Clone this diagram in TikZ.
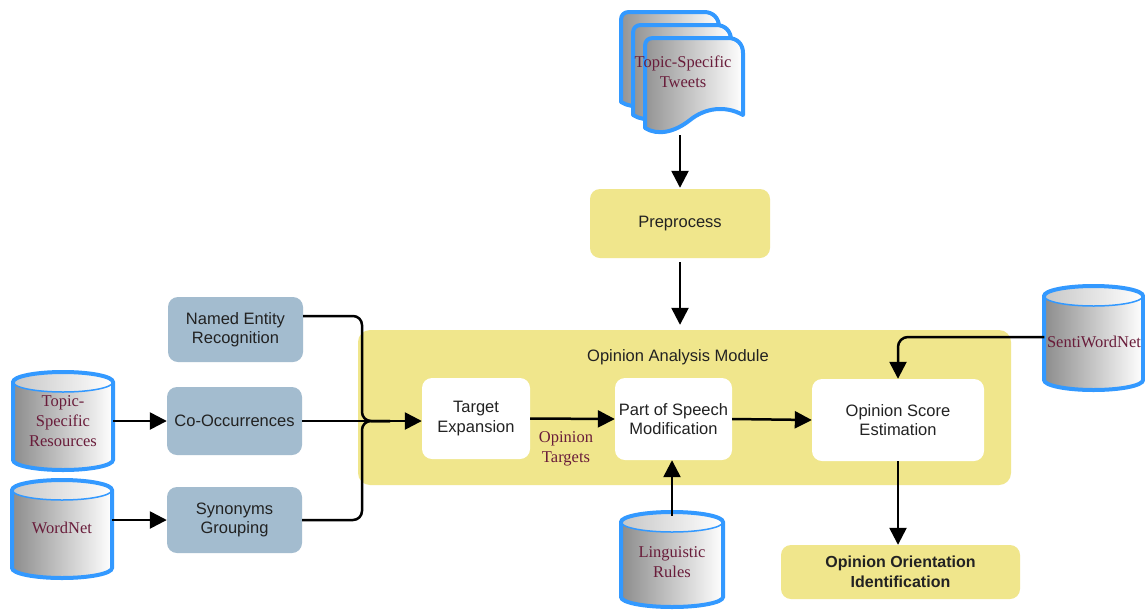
\documentclass[tikz,border=0pt]{standalone}
\usepackage{fontspec}
\setmainfont{Liberation Serif}
\newfontfamily\sansf{Liberation Sans}
\usetikzlibrary{arrows.meta}
\definecolor{khaki}{RGB}{240,230,140}
\definecolor{bgray}{RGB}{163,188,207}
\definecolor{cylblue}{RGB}{51,153,255}
\definecolor{maroon}{RGB}{105,28,58}
\definecolor{txt}{RGB}{34,34,34}
\tikzset{
  conn/.style={line width=2.5pt,-{Triangle[length=17pt,width=17pt]}},
  plainline/.style={line width=2.5pt},
  sanstext/.style={inner sep=0pt,align=center,text=txt,font=\sansf\fontsize{16.5}{19.5}\selectfont},
  bluebox/.style={sanstext,fill=bgray,rounded corners=10pt},
  whitebox/.style={sanstext,fill=white,rounded corners=10pt},
  khakibox/.style={sanstext,fill=khaki,rounded corners=10pt},
  cyltext/.style={inner sep=0pt,align=center,text=maroon,font=\fontsize{16.5}{20}\selectfont},
  cylfill/.style={left color=black!45,right color=white},
  cylline/.style={draw=cylblue,line width=4pt},
  cyltop/.style={draw=cylblue,line width=1.5pt,left color=black!22,right color=white},
  docst/.style={draw=cylblue,line width=4pt,left color=black!42,right color=white,line join=round}
}
\newcommand\mycyl[4]{%
  \path[cylfill] (#1-#4,#2) -- (#1-#4,#3) arc[start angle=180,end angle=360,x radius=#4pt,y radius=10pt] -- (#1+#4,#2) arc[start angle=0,end angle=180,x radius=#4pt,y radius=10pt] -- cycle;
  \path[cyltop] (#1,#2) ellipse[x radius=#4pt,y radius=10pt];
  \path[cylline] (#1-#4,#2) -- (#1-#4,#3) arc[start angle=180,end angle=360,x radius=#4pt,y radius=10pt] -- (#1+#4,#2) arc[start angle=0,end angle=180,x radius=#4pt,y radius=10pt] -- cycle;}
\newcommand\mydoc[1]{%
  \path[docst,shift={#1}] (645,46) .. controls (645,41) and (648,38) .. (653,38) -- (728,38) .. controls (737,38) and (743,44) .. (743,53) -- (743,115) .. controls (725,105) and (705,108) .. (690,120) .. controls (675,132) and (658,136) .. (645,128) -- cycle;}
\begin{document}
\begin{tikzpicture}[x=1pt,y=-1pt]
\useasboundingbox (0,0) rectangle (1145,611);
\fill[white] (0,0) rectangle (1145,611);

% document stack
\mydoc{(-24,-26)}
\mydoc{(-12,-13)}
\mydoc{(0,0)}
\node[cyltext,minimum width=100pt,minimum height=126pt] (docs) at (683,72) {Topic-Specific\\Tweets};

% cylinders
\mycyl{63}{382}{460}{50}
\mycyl{62}{490}{568}{50}
\mycyl{1093.5}{296}{380}{49.5}
\mycyl{672}{522}{597}{51}
\node[cyltext,minimum width=100pt,minimum height=98pt] (tsr) at (63,421) {Topic-\\Specific\\Resources};
\node[cyltext,minimum width=100pt,minimum height=98pt] (wn) at (62,528) {WordNet};
\node[cyltext,minimum width=99pt,minimum height=100pt] (swn) at (1094,342) {SentiWordNet};
\node[cyltext,minimum width=102pt,minimum height=96pt] (lr) at (672,562) {Linguistic\\Rules};

% boxes
\node[khakibox,minimum width=180pt,minimum height=69pt] (pre) at (680,223.5) {Preprocess};
\node[khakibox,rounded corners=12pt,minimum width=653pt,minimum height=155pt] (mod) at (684.5,407.5) {};
\node[sanstext] (modlbl) at (678,357) {Opinion Analysis Module};
\node[whitebox,minimum width=108pt,minimum height=81pt] (te) at (476,418.5) {Target\\Expansion};
\node[whitebox,minimum width=117pt,minimum height=82pt] (pos) at (673.5,419) {Part of Speech\\Modification};
\node[whitebox,minimum width=172pt,minimum height=82pt] (ose) at (898,420) {Opinion Score\\Estimation};
\node[khakibox,minimum width=239pt,minimum height=54pt,font=\sansf\bfseries\fontsize{16}{20}\selectfont] (ooi) at (900.5,572) {Opinion Orientation\\Identification};
\node[bluebox,minimum width=135pt,minimum height=65pt] (ner) at (235.5,329.5) {Named Entity\\Recognition};
\node[bluebox,minimum width=135pt,minimum height=68pt] (cooc) at (234.5,421) {Co-Occurrences};
\node[bluebox,minimum width=135pt,minimum height=66pt] (syn) at (234.5,520) {Synonyms\\Grouping};
\node[cyltext] (otlbl) at (566,449) {Opinion\\Targets};

% connectors
\coordinate (bus) at (362,421);
\coordinate (join) at (390,421);
\draw[conn,shorten >=1pt] (docs.south -| pre.north) -- (pre.north);
\draw[conn,shorten <=4pt,shorten >=5pt] (pre.south) -- (pre.south |- mod.north);
\draw[plainline,rounded corners=9pt] ([yshift=13.5pt]ner.east) -| (bus) -- (join);
\draw[plainline,rounded corners=9pt] (syn.east) -| (bus) -- (join);
\draw[conn] (cooc.east) -- (cooc.east -| te.west);
\draw[conn] (tsr.east) -- (cooc.west);
\draw[conn] (wn.east |- syn.west) -- (syn.west);
\draw[conn] (te.east) -- (pos.west);
\draw[conn] (pos.east) -- (ose.west);
\draw[conn,rounded corners=10pt] ([yshift=5pt]swn.west) -| (ose.north);
\draw[conn,shorten <=-2pt] (lr.north) -- (lr.north |- pos.south);
\draw[conn] (ose.south) -- (ose.south |- ooi.north);
\end{tikzpicture}
\end{document}
